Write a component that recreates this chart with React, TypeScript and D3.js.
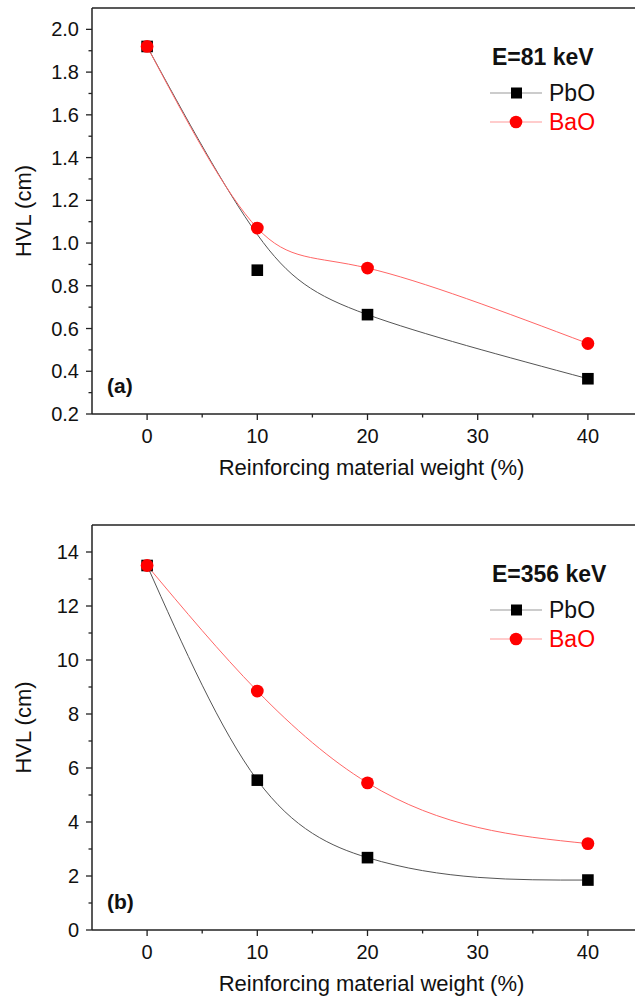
import React from 'react'
import * as d3 from 'd3'

const weights = [0, 10, 20, 40]
const xTicks = [0, 10, 20, 30, 40]
const xMinor = [5, 15, 25, 35]

// panel (a), E = 81 keV
const pbo81 = [1.92, 0.873, 0.665, 0.365]
const bao81 = [1.92, 1.07, 0.883, 0.53]
// smooth lines
const fitX81 = [0, 10, 20, 40]
const pbo81Fit = [1.92, 1.04, 0.665, 0.365]
const bao81Fit = [1.92, 1.07, 0.883, 0.53]
const yTicks81 = [0.2, 0.4, 0.6, 0.8, 1.0, 1.2, 1.4, 1.6, 1.8, 2.0]
const yMinor81 = [0.3, 0.5, 0.7, 0.9, 1.1, 1.3, 1.5, 1.7, 1.9]

// panel (b), E = 356 keV
const pbo356 = [13.5, 5.55, 2.68, 1.85]
const bao356 = [13.5, 8.85, 5.45, 3.2]
const fitX356 = [0, 10, 20, 30, 40]
const pbo356Fit = [13.5, 5.55, 2.68, 1.95, 1.85]
const bao356Fit = [13.5, 8.85, 5.45, 3.8, 3.2]
const yTicks356 = [0, 2, 4, 6, 8, 10, 12, 14]
const yMinor356 = [1, 3, 5, 7, 9, 11, 13]

const FONT = 'Arial, "Liberation Sans", sans-serif'
const LEFT = 92
const RIGHT = 643
const RED = '#ff0000'

const x = d3.scaleLinear().domain([-5, 45]).range([LEFT, RIGHT])

type PanelProps = {
  top: number
  bottom: number
  domain: [number, number]
  ticks: number[]
  minor: number[]
  fmt: (v: number) => string
  pbo: number[]
  bao: number[]
  fitX: number[]
  pboFit: number[]
  baoFit: number[]
  energy: string
  tag: string
}

const Panel = ({ top, bottom, domain, ticks, minor, fmt, pbo, bao, fitX, pboFit, baoFit, energy, tag }: PanelProps) => {
  const y = d3.scaleLinear().domain(domain).range([bottom, top])
  const line = (vals: number[]) =>
    d3
      .line<number>()
      .x((_, i) => x(fitX[i]))
      .y((v) => y(v))
      .curve(d3.curveNatural)(vals) || ''

  const legX = 490
  const legY = top + 57

  return (
    <g fontFamily={FONT}>
      {/* frame */}
      <line x1={LEFT} x2={635} y1={top} y2={top} stroke="#222" strokeWidth={1.5} />
      <line x1={LEFT} x2={LEFT} y1={top} y2={bottom} stroke="#222" strokeWidth={1.5} />
      <line x1={LEFT} x2={635} y1={bottom} y2={bottom} stroke="#222" strokeWidth={1.5} />

      {/* x axis */}
      {xTicks.map((t) => (
        <g key={'x' + t}>
          <line x1={x(t)} x2={x(t)} y1={bottom} y2={bottom + 6} stroke="#222" strokeWidth={1.3} />
          <text x={x(t)} y={bottom + 29} textAnchor="middle" fontSize={20} fill="#111">
            {t}
          </text>
        </g>
      ))}
      {xMinor.map((t) => (
        <line key={'xm' + t} x1={x(t)} x2={x(t)} y1={bottom} y2={bottom + 3.5} stroke="#222" strokeWidth={1.3} />
      ))}
      <text x={(LEFT + 635) / 2 + 8} y={bottom + 61} textAnchor="middle" fontSize={22} fill="#111">
        Reinforcing material weight (%)
      </text>

      {/* y axis */}
      {ticks.map((t) => (
        <g key={'y' + t}>
          <line x1={LEFT - 6} x2={LEFT} y1={y(t)} y2={y(t)} stroke="#222" strokeWidth={1.3} />
          <text x={LEFT - 13} y={y(t) + 7} textAnchor="end" fontSize={20} fill="#111">
            {fmt(t)}
          </text>
        </g>
      ))}
      {minor.map((t) => (
        <line key={'ym' + t} x1={LEFT - 3.5} x2={LEFT} y1={y(t)} y2={y(t)} stroke="#222" strokeWidth={1.3} />
      ))}
      <text
        transform={`translate(31,${(top + bottom) / 2}) rotate(-90)`}
        textAnchor="middle"
        fontSize={22}
        fill="#111"
      >
        HVL (cm)
      </text>

      {/* curves */}
      <path d={line(pboFit)} fill="none" stroke="#555" strokeWidth={1} />
      <path d={line(baoFit)} fill="none" stroke="#ff6666" strokeWidth={1} />

      {/* markers */}
      {pbo.map((v, i) => (
        <rect key={'p' + i} x={x(weights[i]) - 5.8} y={y(v) - 5.8} width={11.6} height={11.6} fill="#000" />
      ))}
      {bao.map((v, i) => (
        <circle key={'b' + i} cx={x(weights[i])} cy={y(v)} r={6.4} fill={RED} />
      ))}

      {/* legend */}
      <text x={legX + 2} y={legY} fontSize={23} fontWeight="bold" fill="#111">
        {energy}
      </text>
      <line x1={legX} x2={legX + 52} y1={legY + 28} y2={legY + 28} stroke="#999" strokeWidth={1} />
      <rect x={legX + 21} y={legY + 22.5} width={11} height={11} fill="#000" />
      <text x={legX + 59} y={legY + 36} fontSize={23} fill="#111">
        PbO
      </text>
      <line x1={legX} x2={legX + 52} y1={legY + 57} y2={legY + 57} stroke="#ff9999" strokeWidth={1} />
      <circle cx={legX + 26} cy={legY + 57} r={6.3} fill={RED} />
      <text x={legX + 59} y={legY + 65} fontSize={23} fill={RED}>
        BaO
      </text>

      <text x={107} y={bottom - 21} fontSize={21} fontWeight="bold" fill="#111">
        {tag}
      </text>
    </g>
  )
}

const App = () => (
  <svg width={635} height={1000} style={{ position: 'absolute', left: 0, top: 0, background: '#fff' }}>
    <rect width={635} height={1000} fill="#fff" />
    <Panel
      top={8}
      bottom={414}
      domain={[0.2, 2.1]}
      ticks={yTicks81}
      minor={yMinor81}
      fmt={(v) => v.toFixed(1)}
      pbo={pbo81}
      bao={bao81}
      fitX={fitX81}
      pboFit={pbo81Fit}
      baoFit={bao81Fit}
      energy="E=81 keV"
      tag="(a)"
    />
    <Panel
      top={525}
      bottom={930}
      domain={[0, 15]}
      ticks={yTicks356}
      minor={yMinor356}
      fmt={(v) => String(v)}
      pbo={pbo356}
      bao={bao356}
      fitX={fitX356}
      pboFit={pbo356Fit}
      baoFit={bao356Fit}
      energy="E=356 keV"
      tag="(b)"
    />
  </svg>
)

export default App
